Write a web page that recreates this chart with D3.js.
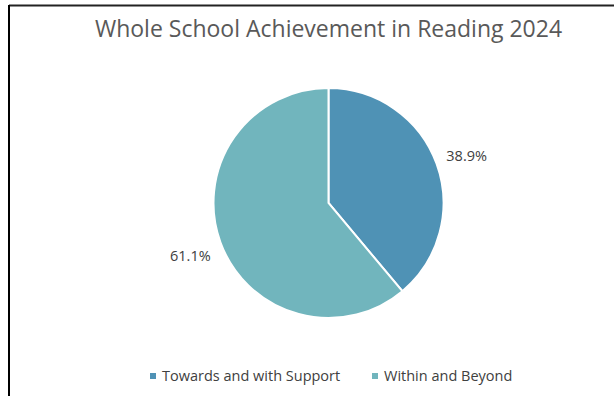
<!DOCTYPE html>
<html>
<head>
    <meta charset="utf-8">
    <title>Whole School Achievement in Reading 2024</title>
    <script src="https://d3js.org/d3.v7.min.js"></script>
    <style>
        body { margin: 0; background: #fff; }
        text { font-family: "Open Sans", "Noto Sans", sans-serif; }
    </style>
</head>
<body>
<div id="chart"></div>
<script type="text/javascript">

    let categories = ["Towards and with Support", "Within and Beyond"];
    let values = [38.9, 61.1];
    let labels = ["38.9%", "61.1%"];
    let colours = ["#4f92b5", "#71b5bd"];

    let w = 614, h = 396;
    let cx = 328.5, cy = 203, r = 115;

    let svg = d3.select("#chart")
        .append("svg")
            .attr("width", w)
            .attr("height", h);

    // frame (left and top edges only)
    svg.append("line")
        .attr("x1", 9).attr("y1", 5.5).attr("x2", w).attr("y2", 5.5)
        .attr("stroke", "#222").attr("stroke-width", 2);
    svg.append("line")
        .attr("x1", 9).attr("y1", 5).attr("x2", 9).attr("y2", h)
        .attr("stroke", "#000").attr("stroke-width", 2);

    svg.append("text")
        .attr("x", cx)
        .attr("y", 37)
        .attr("text-anchor", "middle")
        .attr("font-size", "23px")
        .attr("fill", "#595959")
        .text("Whole School Achievement in Reading 2024");

    let pie = d3.pie().sort(null).value(function(d) { return d; });
    let arc = d3.arc().innerRadius(0).outerRadius(r);
    let arcs = pie(values);

    let g = svg.append("g")
        .attr("transform", "translate(" + cx + "," + cy + ")");

    g.selectAll("path")
        .data(arcs)
        .enter()
        .append("path")
        .attr("d", arc)
        .attr("fill", function(d, i) { return colours[i]; })
        .attr("stroke", "#fff")
        .attr("stroke-width", 2);

    // data labels outside the slices
    let labelArc = d3.arc().innerRadius(r + 32).outerRadius(r + 32);
    g.selectAll("text.lbl")
        .data(arcs)
        .enter()
        .append("text")
        .attr("class", "lbl")
        .attr("transform", function(d) {
            let c = labelArc.centroid(d);
            return "translate(" + c[0] + "," + (c[1] + 3) + ")";
        })
        .attr("text-anchor", "middle")
        .attr("dy", "0.35em")
        .attr("font-size", "14.5px")
        .attr("fill", "#404040")
        .text(function(d, i) { return labels[i]; });

    // legend
    let legendX = [150, 372];
    let legend = svg.selectAll("g.legend")
        .data(categories)
        .enter()
        .append("g")
        .attr("class", "legend")
        .attr("transform", function(d, i) { return "translate(" + legendX[i] + ",376)"; });

    legend.append("rect")
        .attr("x", 0).attr("y", -3)
        .attr("width", 6).attr("height", 6)
        .attr("fill", function(d, i) { return colours[i]; });

    legend.append("text")
        .attr("x", 12)
        .attr("dy", "0.35em")
        .attr("font-size", "14.5px")
        .attr("fill", "#404040")
        .text(function(d) { return d; });

</script>
</body>
</html>
